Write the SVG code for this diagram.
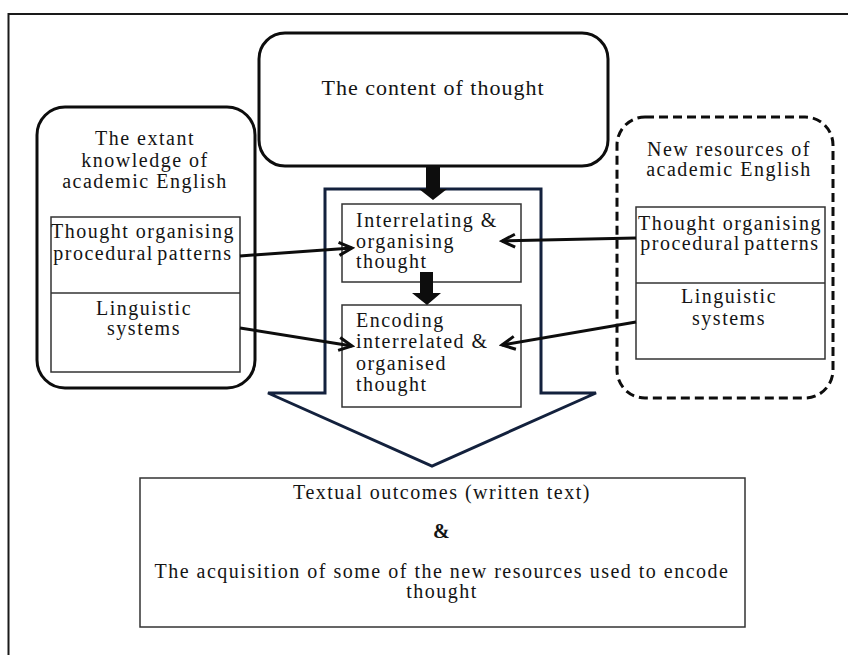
<svg xmlns="http://www.w3.org/2000/svg" width="848" height="655" viewBox="0 0 848 655" font-family="Liberation Serif, Times New Roman, serif">
  <style>
    text { font-size: 20px; fill: #141414; letter-spacing: 1.5px; }
    .mid { text-anchor: middle; }
    .tight { word-spacing: -3px; }
    .frame { fill: none; stroke: #1a1a1a; stroke-width: 2; }
    .rbox { fill: #fff; stroke: #0d0d0d; stroke-width: 3; }
    .dbox { fill: #fff; stroke: #0d0d0d; stroke-width: 3; stroke-dasharray: 9 5; }
    .box { fill: #fff; stroke: #333; stroke-width: 1.5; }
    .flow { fill: #fff; stroke: #13213d; stroke-width: 3; stroke-linejoin: miter; }
    .link { fill: none; stroke: #0d0d0d; stroke-width: 3; marker-end: url(#head); }
    .block { fill: #0d0d0d; }
  </style>
  <defs>
    <marker id="head" markerUnits="userSpaceOnUse" markerWidth="18" markerHeight="18" viewBox="-15 -9 18 18" refX="0" refY="0" orient="auto">
      <path d="M-13,-6.5 L0,0 L-13,6.5" fill="none" stroke="#0d0d0d" stroke-width="3" stroke-linejoin="miter"/>
    </marker>
  </defs>

  <rect width="848" height="655" fill="#fff"/>
  <!-- page frame -->
  <path class="frame" d="M8.5,656 V14 H849"/>

  <!-- large process arrow -->
  <g id="process-arrow">
    <path class="flow" d="M325,189 H541 V393 H596 L432,466 L268,393 H325 Z"/>
  </g>

  <g id="content-of-thought">
    <rect class="rbox" x="259" y="33" width="349" height="133" rx="26"/>
    <text class="mid" x="433" y="95" style="font-size:22px;letter-spacing:1px">The content of thought</text>
  </g>

  <g id="extant-knowledge">
    <rect class="rbox" x="37" y="107" width="218" height="281" rx="28"/>
    <text class="mid" x="145" y="145">The extant</text>
    <text class="mid" x="145" y="167">knowledge of</text>
    <text class="mid" x="145" y="188">academic English</text>
    <rect class="box" x="51" y="217" width="189" height="155"/>
    <line class="box" x1="51" y1="293" x2="240" y2="293"/>
    <text class="mid" x="143" y="238">Thought organising</text>
    <text class="mid tight" x="143" y="260">procedural patterns</text>
    <text class="mid" x="144" y="315">Linguistic</text>
    <text class="mid" x="144" y="335">systems</text>
  </g>

  <g id="new-resources">
    <rect class="dbox" x="617" y="117" width="216" height="281" rx="28"/>
    <text class="mid" x="729" y="156">New resources of</text>
    <text class="mid" x="729" y="176">academic English</text>
    <rect class="box" x="636" y="207" width="189" height="152"/>
    <line class="box" x1="636" y1="283" x2="825" y2="283"/>
    <text class="mid" x="730" y="230">Thought organising</text>
    <text class="mid tight" x="730" y="250">procedural patterns</text>
    <text class="mid" x="729" y="303">Linguistic</text>
    <text class="mid" x="729" y="325">systems</text>
  </g>

  <g id="interrelating">
    <rect class="box" x="342" y="204" width="179" height="78"/>
    <text x="356" y="227">Interrelating &amp;</text>
    <text x="356" y="248">organising</text>
    <text x="356" y="268">thought</text>
  </g>

  <g id="encoding">
    <rect class="box" x="342" y="305" width="179" height="102"/>
    <text x="356" y="327">Encoding</text>
    <text x="356" y="348">interrelated &amp;</text>
    <text x="356" y="370">organised</text>
    <text x="356" y="391">thought</text>
  </g>

  <g id="outcomes">
    <rect class="box" x="140" y="478" width="605" height="149"/>
    <text class="mid" x="442" y="499">Textual outcomes (written text)</text>
    <text class="mid" x="442" y="538" style="font-weight:bold">&amp;</text>
    <text class="mid" x="442" y="578">The acquisition of some of the new resources used to encode</text>
    <text class="mid" x="442" y="598">thought</text>
  </g>

  <g id="connectors">
    <polygon class="block" points="426,166 440,166 440,189 447,189 433,200 419,189 426,189"/>
    <polygon class="block" points="420,272 433,272 433,293 441,293 427,305 412,293 420,293"/>
    <line class="link" x1="240" y1="256" x2="352" y2="248"/>
    <line class="link" x1="240" y1="328" x2="352" y2="346"/>
    <line class="link" x1="636" y1="238" x2="502" y2="241"/>
    <line class="link" x1="636" y1="322" x2="502" y2="345"/>
  </g>
</svg>
